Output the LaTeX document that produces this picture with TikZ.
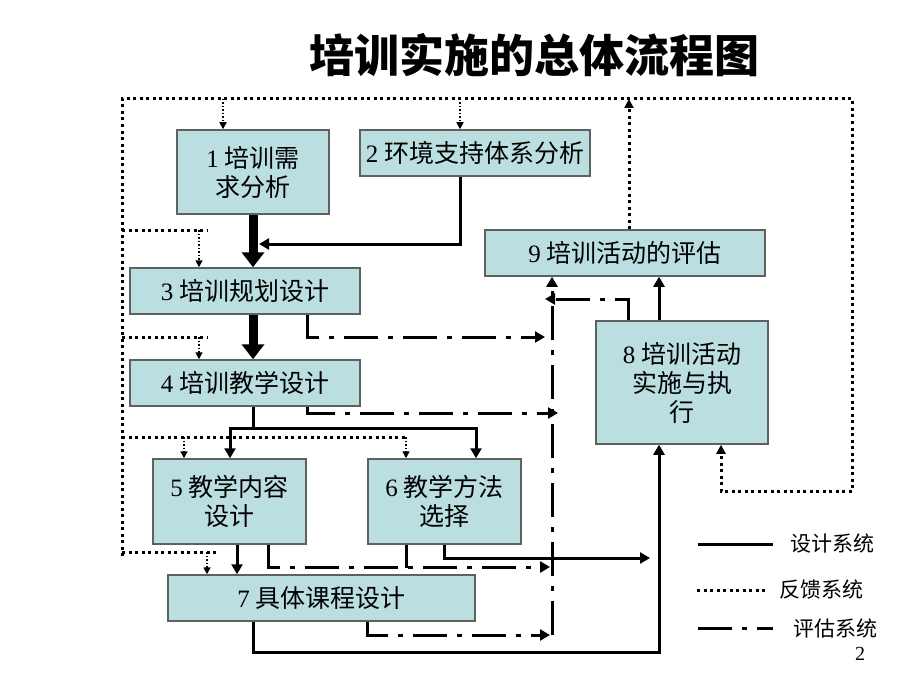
\documentclass[tikz,border=0pt]{standalone}
\usepackage{fontspec}
\setmainfont{Liberation Serif}
\newfontfamily\cjk{Noto Sans CJK SC}
\usetikzlibrary{arrows.meta}
\definecolor{boxfill}{RGB}{187,223,225}
\definecolor{boxline}{RGB}{96,96,96}
\newcommand\dg[1]{{\rmfamily #1}}
\tikzset{
  stage/.style={draw=boxline,line width=1.5pt,fill=boxfill,inner sep=0pt,align=center,font=\cjk\fontsize{25}{29}\selectfont},
  design/.style={line width=3pt,-{Triangle[length=10pt,width=11pt]}},
  bigflow/.style={line width=9pt,-{Triangle[length=15pt,width=22pt]}},
  feedback/.style={line width=3pt,dash pattern=on 3pt off 3.5pt},
  fbdrop/.style={line width=1.5pt,dash pattern=on 1.5pt off 2pt,-{Triangle[length=7pt,width=7pt]}},
  evaluate/.style={line width=3pt,dash pattern=on 34pt off 10pt on 5pt off 10pt,-{Triangle[length=10pt,width=11pt]}},
  legendtext/.style={font=\cjk\fontsize{21}{24}\selectfont,anchor=west,inner sep=0pt}
}
\begin{document}
\begin{tikzpicture}[x=1pt,y=-1pt,line join=miter] % overall training flow
         \useasboundingbox (0,0) rectangle (920,690);
         \node[font=\cjk\bfseries\fontsize{45}{50}\selectfont] (title) at (534,55) {培训实施的总体流程图};
         \node[stage,minimum width=152,minimum height=84] (need) at (253,172) {\dg{1} 培训需\\求分析};
         \node[stage,minimum width=230,minimum height=46] (env) at (475,153) {\dg{2} 环境支持体系分析};
         \node[stage,minimum width=230,minimum height=46] (plan) at (245,291) {\dg{3} 培训规划设计};
         \node[stage,minimum width=230,minimum height=46] (teach) at (245,383) {\dg{4} 培训教学设计};
         \node[stage,minimum width=153,minimum height=85] (content) at (229.5,501.5) {\dg{5} 教学内容\\设计};
         \node[stage,minimum width=153,minimum height=85] (method) at (444.5,501.5) {\dg{6} 教学方法\\选择};
         \node[stage,minimum width=307,minimum height=46] (course) at (321.5,598) {\dg{7} 具体课程设计};
         \node[stage,minimum width=172,minimum height=123] (run) at (682,382.5) {\dg{8} 培训活动\\实施与执\\行};
         \node[stage,minimum width=280,minimum height=46] (assess) at (625,253) {\dg{9} 培训活动的评估};
         % feedback
         \coordinate (fbTL) at (122,99);
         \coordinate (fbTR) at (852,99);
         \coordinate (fbBR) at (852,491);
         \coordinate (fbBL) at (122,556);
         \coordinate (fbIn) at ([xshift=39]run.south);
         \draw[feedback,-{Triangle[length=9pt,width=9pt]}] (fbBL) -- (fbTL) -- (fbTR) -- (fbBR) -| (fbIn);
         \draw[feedback,-{Triangle[length=9pt,width=9pt]}] ([xshift=4]assess.north) -- ([xshift=4]assess.north |- fbTL);
         \coordinate (t1) at (223,99);
         \coordinate (t2) at (460,99);
         \draw[fbdrop] (t1) -- (t1 |- need.north);
         \draw[fbdrop] (t2) -- (t2 |- env.north);
         \coordinate (b3) at (199,230);
         \draw[feedback] (fbTL |- b3) -- ++(86,0);
         \draw[fbdrop] (b3) -- (b3 |- plan.north);
         \coordinate (b4) at (199,337);
         \draw[feedback] (fbTL |- b4) -- ++(86,0);
         \draw[fbdrop] (b4) -- (b4 |- teach.north);
         \coordinate (b5) at (184,437);
         \coordinate (b6) at (406,437);
         \draw[feedback] (fbTL |- b5) -- ([xshift=2]b6);
         \draw[fbdrop] (b5) -- (b5 |- content.north);
         \draw[fbdrop] (b6) -- (b6 |- method.north);
         \coordinate (b7) at (207,552);
         \draw[feedback] (fbTL |- b7) -- ++(94,0);
         \draw[fbdrop] (b7) -- (b7 |- course.north);
         % design
         \draw[bigflow] (need.south) -- (need.south |- plan.north);
         \draw[bigflow] (need.south |- plan.south) -- (need.south |- teach.north);
         \coordinate (j2) at (259,244);
         \draw[design] ([xshift=-15]env.south) |- (j2);
         \coordinate (s4) at (253,428);
         \coordinate (s5) at (230,428);
         \coordinate (s6) at (476,428);
         \draw[line width=3pt] (s4 |- teach.south) -- (s4);
         \draw[design] (s4) -- (s5) -- (s5 |- content.north);
         \draw[design] (s4) -- (s6) -- (s6 |- method.north);
         \draw[design] ([xshift=7.5]content.south) -- ([xshift=7.5]content.south |- course.north);
         \coordinate (e6) at (650,558);
         \draw[design] (method.south) |- (e6);
         \coordinate (c7) at (659,652);
         \draw[design] ([xshift=-68.5]course.south) |- (c7) -- (c7 |- run.south);
         \draw[design] (c7 |- run.north) -- (c7 |- assess.south);
         % evaluation
         \coordinate (ev) at (552,635);
         \coordinate (e3) at (545,337);
         \coordinate (e4) at (558,413);
         \coordinate (e5) at (550,567);
         \coordinate (e7) at (550,635);
         \coordinate (e8) at (545,299);
         \draw[evaluate] (ev) -- (ev |- assess.south);
         \draw[evaluate] ([xshift=62]plan.south) |- (e3);
         \draw[evaluate] ([xshift=62]teach.south) |- (e4);
         \draw[evaluate] ([xshift=38.5]content.south) |- (e5);
         \draw[line width=3pt] ([xshift=-38.5]method.south) -- ++(0,23);
         \draw[evaluate] ([xshift=45.5]course.south) |- (e7);
         \draw[evaluate] ([xshift=-54]run.north) |- (e8);
         % legend
         \node[legendtext] (lgDesign) at (790,544) {设计系统};
         \node[legendtext] (lgFeed) at (779,590) {反馈系统};
         \node[legendtext] (lgEval) at (793,628) {评估系统};
         \draw[line width=3pt] ([xshift=-92]lgDesign.west) -- ++(75,0);
         \draw[feedback] ([xshift=-82]lgFeed.west) -- ++(70,0);
         \draw[evaluate,-] ([xshift=-95]lgEval.west) -- ++(75,0);
         \node[font=\fontsize{20}{22}\selectfont] (page) at (860,654) {2};
\end{tikzpicture}
\end{document}
